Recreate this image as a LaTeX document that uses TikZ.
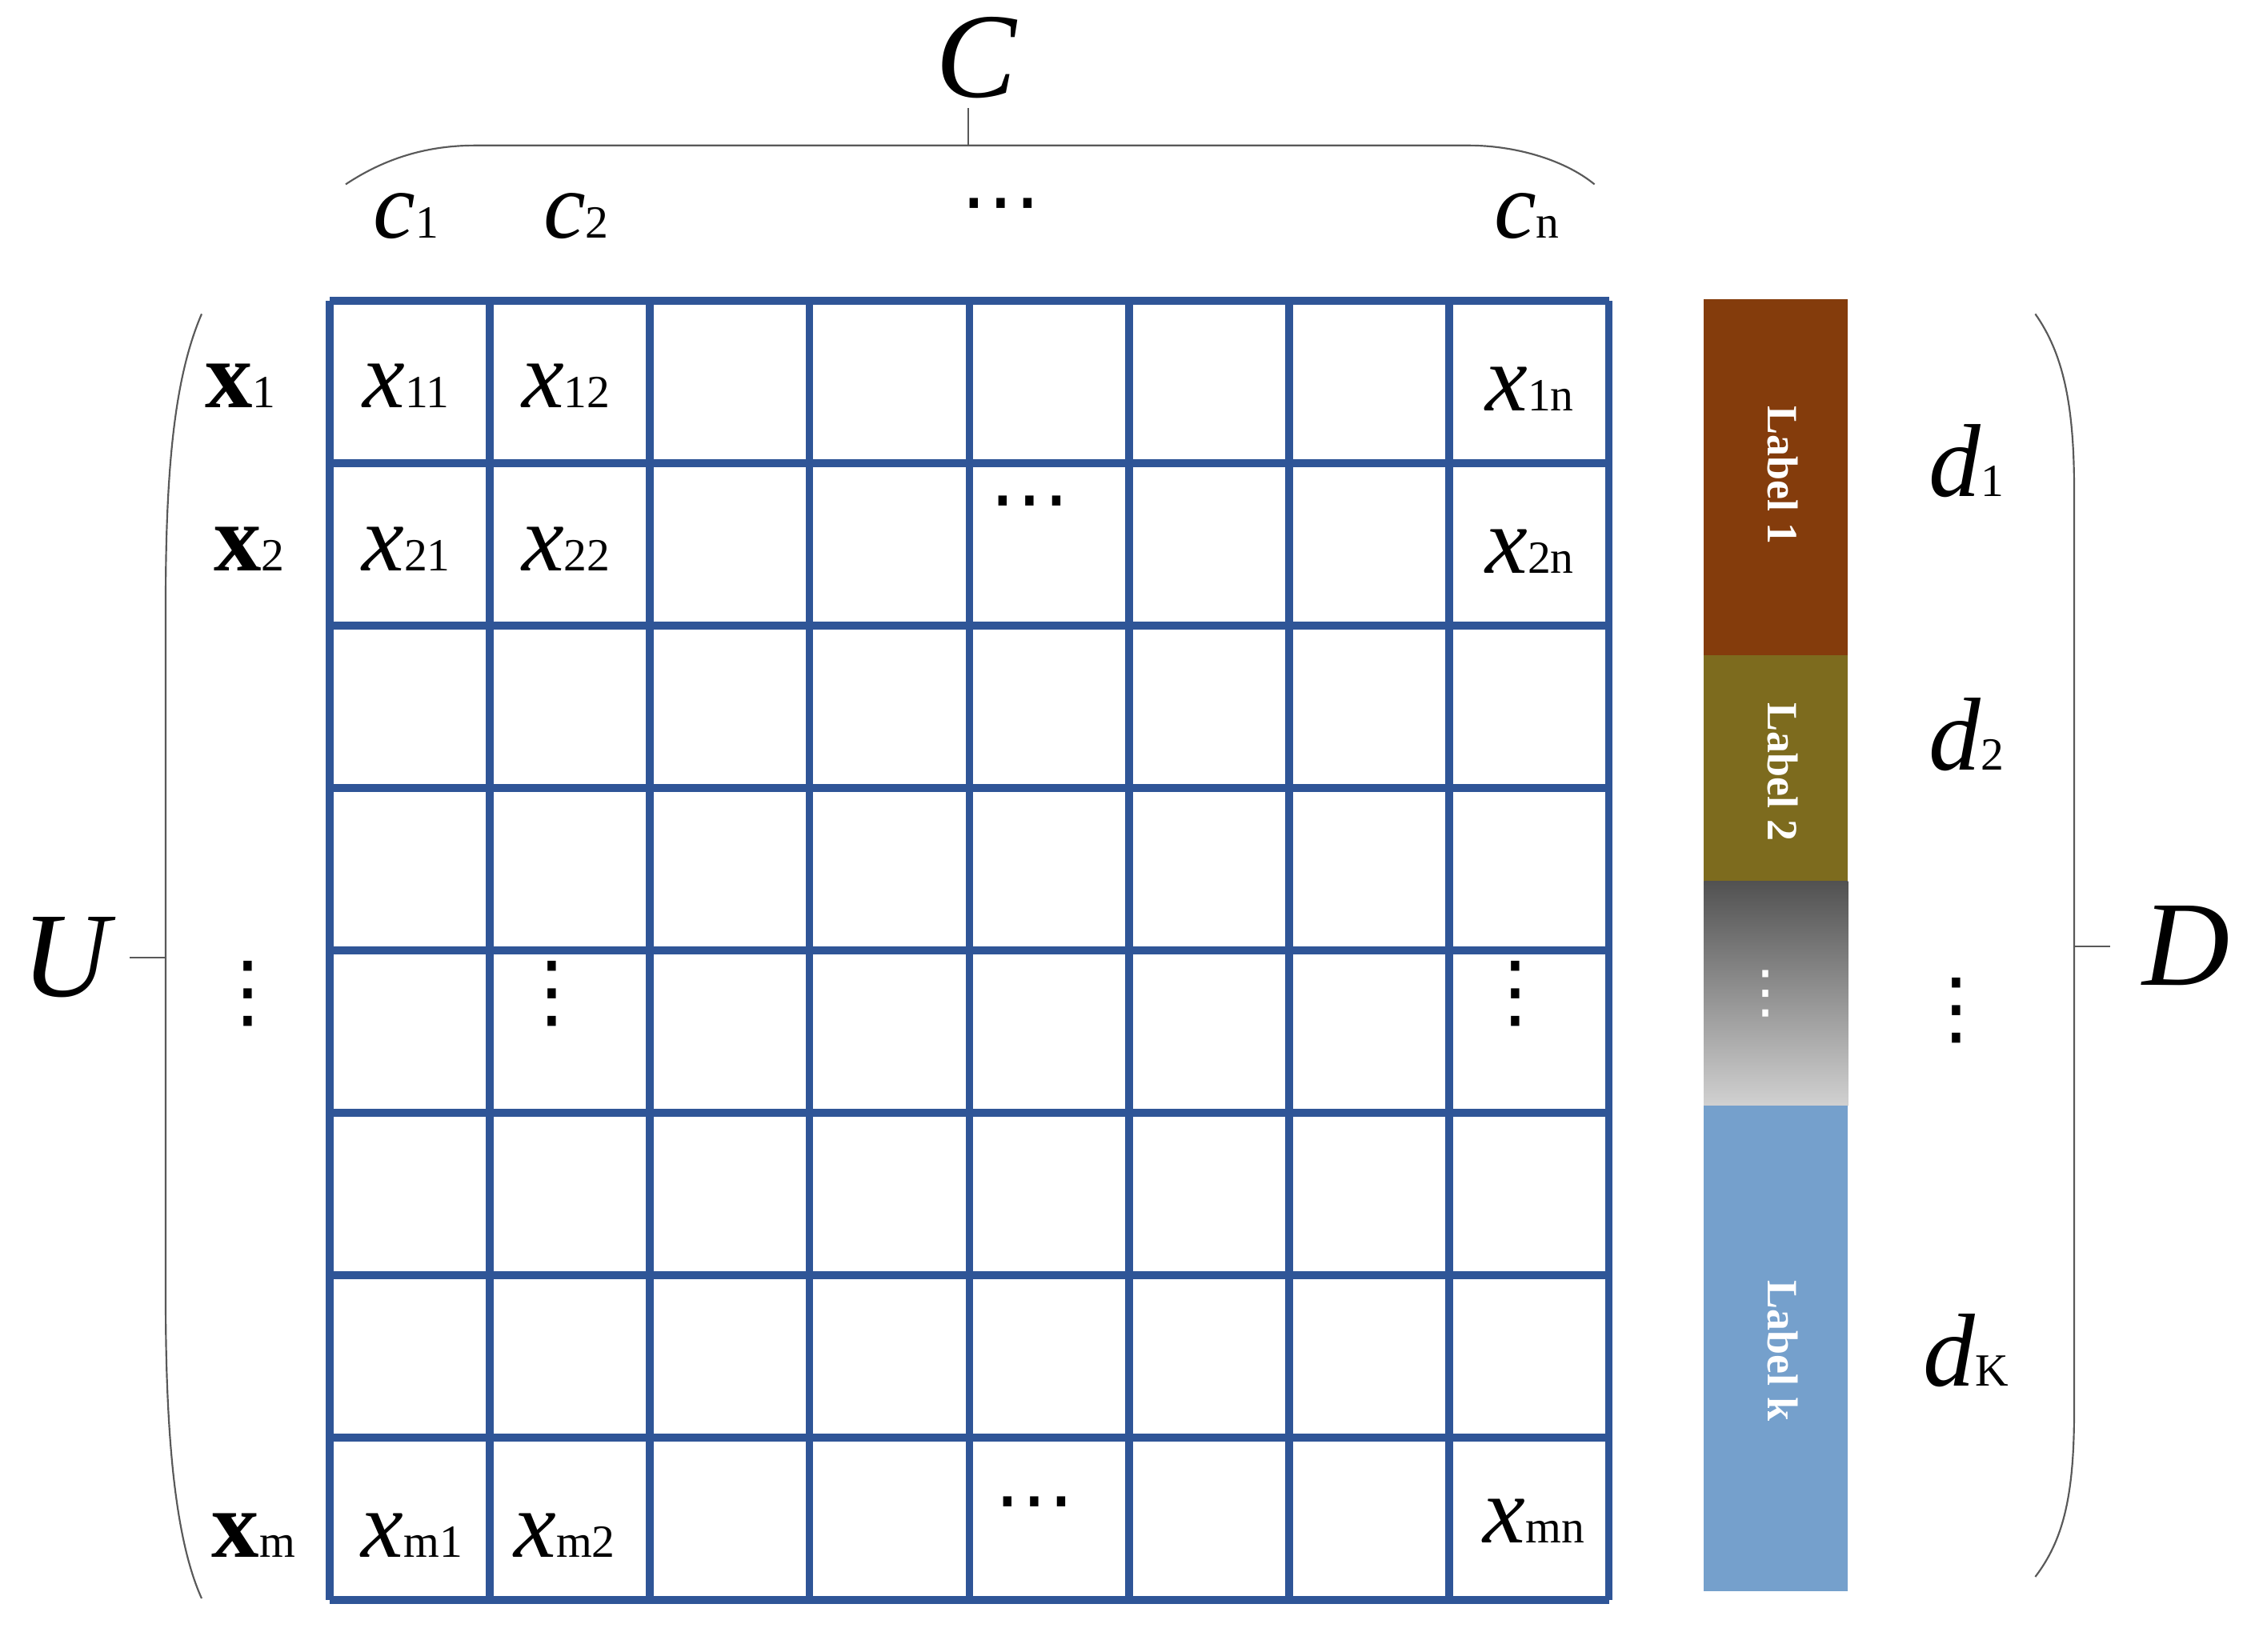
\documentclass[tikz,border=0pt]{standalone}
\usepackage{fontspec}
\setmainfont{Liberation Serif}
\newfontfamily\djv{DejaVu Sans}
\definecolor{gridblue}{HTML}{2F5597}
\definecolor{lbrown}{HTML}{843C0C}
\definecolor{lolive}{HTML}{7D6B1E}
\definecolor{lblue}{HTML}{75A0CC}
\newcommand{\bgt}[1]{{\fontsize{33}{33}\selectfont #1}}
\newcommand{\smt}[1]{{\fontsize{16}{16}\selectfont #1}}
\newcommand{\ent}[2]{\bgt{\textit{x}}\smt{#2}}
\newcommand{\vd}{{\djv\fontsize{28}{28}\selectfont ⋮}}
\newcommand{\hd}{{\djv\fontsize{28}{28}\selectfont ⋯}}
\begin{document}
\begin{tikzpicture}[x=0.5pt,y=-0.5pt,
  gl/.style={draw=gridblue,line width=2.7pt},
  br/.style={draw=black!65,line width=0.6pt},
  lab/.style={text=white,font=\bfseries\fontsize{15}{15}\selectfont,rotate=-90},
  tx/.style={inner sep=0pt,anchor=center}]
\useasboundingbox (0,0) rectangle (1560,1147);
% grid
\foreach \i in {0,...,8}{
  \draw[gl] ({229+\i*111},209) -- ({229+\i*111},1111);
  \draw[gl] (229,{209+\i*112.75}) -- (1117,{209+\i*112.75});
}
% label bar
\fill[lbrown] (1183,208) rectangle (1283,455);
\fill[lolive] (1183,455) rectangle (1283,612);
\shade[top color=black!68,bottom color=black!18] (1183,612) rectangle (1283,768);
\fill[lblue] (1183,768) rectangle (1283,1105);
\node[lab] (l1) at (1238,330) {Label 1};
\node[lab] (l2) at (1238,536) {Label 2};
\node[text=white,font=\djv\fontsize{20}{20}\selectfont] (l3) at (1226,690) {⋮};
\node[lab] (lk) at (1238,938) {Label k};
% braces
\draw[br] (240,128) .. controls (270,108) and (300,101) .. (330,101) -- (1020,101) .. controls (1050,101) and (1085,110) .. (1107,128);
\draw[br] (672,101) -- (672,75);
\draw[br] (140,218) .. controls (122,260) and (115,320) .. (115,420) -- (115,900) .. controls (115,1000) and (122,1070) .. (140,1110);
\draw[br] (90,665) -- (115,665);
\draw[br] (1413,218) .. controls (1432,245) and (1440,280) .. (1440,340) -- (1440,980) .. controls (1440,1040) and (1432,1070) .. (1413,1095);
\draw[br] (1440,657) -- (1465,657);
% big labels
\node[tx] (C) at (678,40) {\fontsize{42}{42}\selectfont\textit{C}};
\node[tx] (U) at (48,665) {\fontsize{42}{42}\selectfont\textit{U}};
\node[tx] (D) at (1518,657) {\fontsize{42}{42}\selectfont\textit{D}};
% column labels
\node[tx] (c1) at (282,150) {\bgt{\textit{c}}\smt{1}};
\node[tx] (c2) at (400,150) {\bgt{\textit{c}}\smt{2}};
\node[tx] (cd) at (695,148) {\hd};
\node[tx] (cn) at (1060,150) {\bgt{\textit{c}}\smt{n}};
% row labels
\node[tx] (x1) at (167,268) {\bgt{\textbf{x}}\smt{1}};
\node[tx] (x2) at (173,381) {\bgt{\textbf{x}}\smt{2}};
\node[tx] (xd) at (172,690) {\vd};
\node[tx] (xm) at (176,1066) {\bgt{\textbf{x}}\smt{m}};
% entries
\node[tx] (e11) at (282,268) {\ent{x}{11}};
\node[tx] (e12) at (393,268) {\ent{x}{12}};
\node[tx] (e1n) at (1062,270) {\ent{x}{1n}};
\node[tx] (e21) at (282,381) {\ent{x}{21}};
\node[tx] (e22) at (393,381) {\ent{x}{22}};
\node[tx] (e2d) at (715,355) {\hd};
\node[tx] (e2n) at (1062,383) {\ent{x}{2n}};
\node[tx] (ed2) at (383,690) {\vd};
\node[tx] (edn) at (1052,690) {\vd};
\node[tx] (em1) at (286,1066) {\ent{x}{m1}};
\node[tx] (em2) at (392,1066) {\ent{x}{m2}};
\node[tx] (emd) at (718,1050) {\hd};
\node[tx] (emn) at (1065,1056) {\ent{x}{mn}};
% d labels
\node[tx] (d1) at (1365,320) {\fontsize{36}{36}\selectfont\textit{d}\smt{1}};
\node[tx] (d2) at (1365,510) {\fontsize{36}{36}\selectfont\textit{d}\smt{2}};
\node[tx] (dd) at (1358,702) {\vd};
\node[tx] (dk) at (1365,938) {\fontsize{36}{36}\selectfont\textit{d}\smt{K}};
\end{tikzpicture}
\end{document}
